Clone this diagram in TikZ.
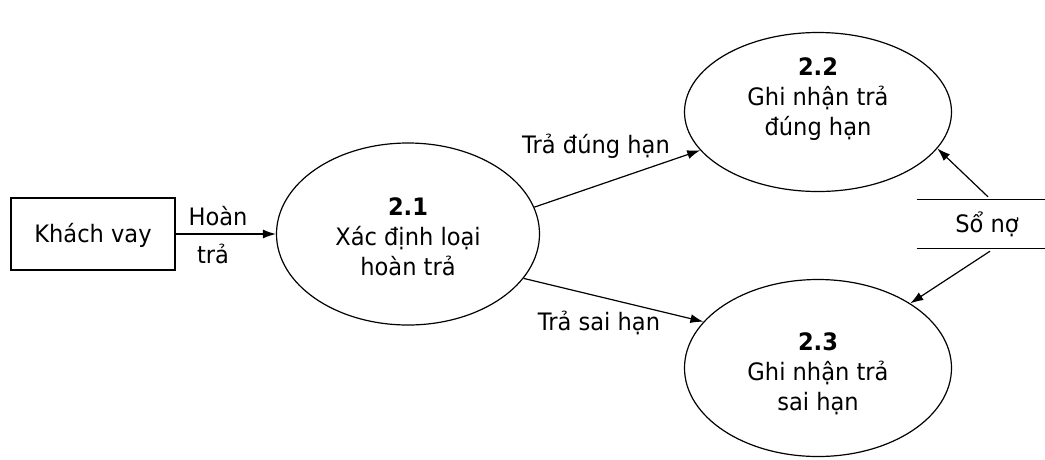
\documentclass[tikz,border=0pt]{standalone}
\usepackage{fontspec}
\setmainfont[FakeStretch=0.94]{DejaVu Sans}
\usetikzlibrary{arrows.meta,shapes.geometric}
\begin{document}
\begin{tikzpicture}[x=1pt,y=-1pt,
  every node/.style={font=\fontsize{24}{30}\selectfont},
  proc/.style={draw,ellipse,line width=1.2pt,inner sep=0pt},
  ptext/.style={align=center,inner sep=0pt,anchor=base},
  lbl/.style={inner sep=0pt,anchor=base},
  flow/.style={line width=1.2pt,-{Latex[length=13pt,width=9pt]}}]
\useasboundingbox (0,0) rectangle (1045,459);
\fill[white] (0,0) rectangle (1045,459);
% entity
\node[draw,line width=1.2pt,minimum width=164pt,minimum height=72pt,inner sep=0pt] (kv) at (93,234) {};
\node[lbl] (kvt) at (93,242) {Khách vay};
% processes
\node[proc,minimum width=263pt,minimum height=182pt] (p21) at (408,234) {};
\node[ptext] (t21) at (408,275) {\textbf{2.1}\\Xác định loại\\hoàn trả};
\node[proc,minimum width=267pt,minimum height=159pt] (p22) at (818,112) {};
\node[ptext] (t22) at (818,135) {\textbf{2.2}\\Ghi nhận trả\\đúng hạn};
\node[proc,minimum width=267pt,minimum height=177pt] (p23) at (818,368) {};
\node[ptext] (t23) at (818,410) {\textbf{2.3}\\Ghi nhận trả\\sai hạn};
% data store
\node[minimum width=128pt,minimum height=48pt,inner sep=0pt] (st) at (981,224) {};
\node[lbl] (stt) at (987,232) {Sổ nợ};
\draw[line width=1.2pt] (st.north west) -- (st.north east);
\draw[line width=1.2pt] (st.south west) -- (st.south east);
% flows
\draw[flow] (kv.east) -- (p21.west);
\node[lbl] (l1) at (218,225) {Hoàn};
\node[lbl] (l2) at (213,263) {trả};
\draw[flow] (p21.12) -- (p22.198);
\node[lbl] (l3) at (596,153) {Trả đúng hạn};
\draw[flow] (p21.-21) -- (p23.158);
\node[lbl] (l4) at (599,330) {Trả sai hạn};
\draw[flow] ([xshift=7pt,yshift=3pt]st.north) -- (p22.-17.5);
\draw[flow] ([xshift=9pt,yshift=-3pt]st.south) -- (p23.35);
\end{tikzpicture}
\end{document}
